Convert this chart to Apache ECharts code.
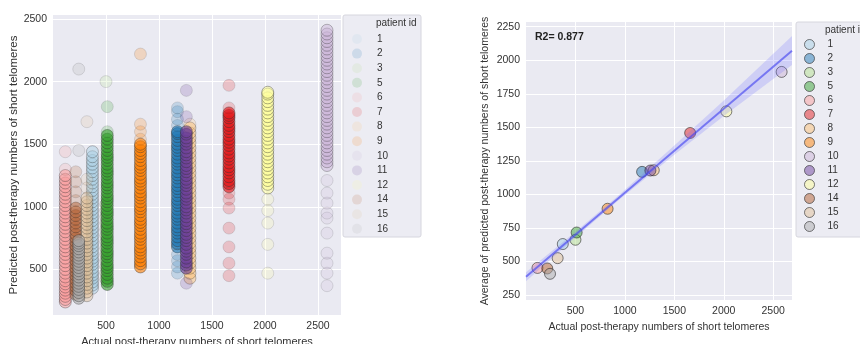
<!DOCTYPE html>
<html><head><meta charset="utf-8">
<script src="https://cdn.jsdelivr.net/npm/echarts@6/dist/echarts.min.js"></script>
<style>html,body{margin:0;padding:0;background:#fff}#c{width:860px;height:344px}</style>
</head><body><div id="c"></div>
<script>
// ---------------- DATA ----------------
const patientIds = ['1','2','3','5','6','7','8','9','10','11','12','14','15','16'];
const actualShort = [372,1174,500,512,116,1660,1292,825,2585,1258,2026,215,320,243];
const avgPredicted = [630,1168,662,716,452,1458,1180,893,1913,1178,1619,448,525,408];

// per-patient predicted values (left panel): main body of each strip
const predCore = [
  [350,375,400,430,455,480,510,540,565,590,620,650,680,710,740,770,800,830,860,890,920,950,980,1010,1040,1070,1100,1130,1160,1190,1220,1250,1280,1310,1340,1370,1400,1440],
  [680,705,730,760,790,815,840,870,900,925,950,980,1010,1035,1060,1090,1120,1145,1170,1200,1230,1255,1280,1310,1340,1365,1390,1420,1450,1475,1500,1530,1560,1585,1600],
  [420,470,520,570,620,670,720,770,820,870,920,970,1020],
  [380,405,430,460,490,515,540,570,600,625,650,680,710,735,760,790,820,845,870,900,930,955,980,1010,1040,1065,1090,1120,1150,1175,1200,1230,1260,1285,1310,1340,1370,1395,1420,1450,1480,1510,1540,1570],
  [240,260,285,310,335,360,385,410,440,470,500,530,560,590,620,650,680,710,740,770,800,830,860,890,920,950,980,1010,1040,1070,1100,1130,1160,1190,1220,1250],
  [1160,1185,1210,1240,1270,1295,1320,1350,1380,1405,1430,1460,1490,1515,1540,1570,1600,1625,1650,1680,1710,1730,1750],
  [430,470,510,550,590,630,670,710,750,790,830,870,910,950,990,1030,1070,1110,1150,1190,1230,1270,1310,1350,1390,1430,1470,1510,1550,1590,1630],
  [520,545,570,600,630,655,680,710,740,765,790,820,850,875,900,930,960,985,1010,1040,1070,1095,1120,1150,1180,1205,1230,1260,1290,1315,1340,1370,1400,1425,1450,1480,1500],
  [1330,1360,1390,1420,1450,1480,1510,1540,1570,1600,1630,1660,1690,1720,1750,1780,1810,1840,1870,1900,1930,1960,1990,2020,2050,2080,2110,2140,2170,2200,2230,2260,2290,2320,2350,2380,2410],
  [510,535,560,590,620,645,670,700,730,755,780,810,840,865,890,920,950,975,1000,1030,1060,1085,1110,1140,1170,1195,1220,1250,1280,1305,1330,1360,1390,1415,1440,1470,1500,1525,1550,1580,1600],
  [1150,1180,1210,1240,1270,1300,1330,1360,1390,1420,1450,1480,1510,1540,1570,1600,1630,1660,1690,1720,1750,1780,1810,1840,1870,1900,1915],
  [300,330,360,390,420,450,480,510,540,570,600,630,660,690,720,750,780,810,840,870,900,930,960,990],
  [290,320,350,380,410,440,470,500,530,560,590,620,650,680,710,740,770,800,830,860,890,920,950,980,1010,1040,1070],
  [270,290,315,340,365,390,415,440,465,490,515,540,565,590,615,640,665,690,710,730]
];
// per-patient predicted values (left panel): scattered outlying points
const predFaint = [
  [],
  [470,520,570,620,1650,1700,1760,1790],
  [2000],
  [1600,1800],
  [1300,1440],
  [450,550,680,830,990,1060,1110,1790,1970],
  [1660],
  [1540,1600,1660,2220],
  [370,470,550,630,790,910,950,1030,1110,1210],
  [390,1720,1930],
  [470,700,870,970,1060],
  [1050,1120,1200,1280],
  [1150,1220,1680],
  [1450,2100]
];

const xTicks = [500,1000,1500,2000,2500];
const yTicksLeft = [500,1000,1500,2000,2500];
const yTicksRight = [250,500,750,1000,1250,1500,1750,2000,2250];
const r2Label = 'R2= 0.877';
// fitted line and its confidence band
const fitX = [0, 2690];
const fitY = [386, 2070];
const bandX = [0, 500, 930, 1500, 2000, 2690];
const bandLo = [352, 678, 952, 1295, 1585, 1965];
const bandHi = [420, 722, 988, 1365, 1700, 2180];

// ---------------- STYLE ----------------
const colors = ['#a6cee3','#1f78b4','#b2df8a','#33a02c','#fb9a99','#e31a1c','#fdbf6f','#ff7f00','#cab2d6','#6a3d9a','#ffff99','#b15928','#dfbf94','#a9a9a9'];
const coreAlpha = [0.45,0.6,0.35,0.6,0.5,0.65,0.45,0.6,0.45,0.6,0.55,0.45,0.45,0.55];
const faintAlpha = 0.2;
const FONT = 'Liberation Sans, Arial, sans-serif';

function rgba(hex, a){
  const n = parseInt(hex.slice(1),16);
  return 'rgba(' + ((n>>16)&255) + ',' + ((n>>8)&255) + ',' + (n&255) + ',' + a + ')';
}

const chart = echarts.init(document.getElementById('c'), null, {renderer:'canvas'});

function axisCommon(ticks, fs, nfs){
  return {
    type:'value',
    axisLine:{show:false},
    axisTick:{show:false, customValues: ticks},
    axisLabel:{customValues: ticks, color:'#333', fontSize:fs, fontFamily:FONT, margin:6, formatter:v=>String(v)},
    splitLine:{show:true, lineStyle:{color:'#ffffff', width:1}},
    nameLocation:'middle',
    nameTextStyle:{color:'#333', fontSize:nfs, fontFamily:FONT}
  };
}

const series = [];
patientIds.forEach((pid, i) => {
  const data = [];
  predCore[i].forEach(v => data.push({value:[actualShort[i], v], itemStyle:{opacity:coreAlpha[i]}}));
  predFaint[i].forEach(v => data.push({value:[actualShort[i], v], itemStyle:{opacity:faintAlpha}}));
  series.push({
    name: pid, type:'scatter', xAxisIndex:0, yAxisIndex:0,
    symbolSize:12, data,
    itemStyle:{color:colors[i], borderColor:'#333', borderWidth:0.7},
    emphasis:{disabled:true}, z:2
  });
});
patientIds.forEach((pid, i) => {
  series.push({
    name: pid, type:'scatter', xAxisIndex:1, yAxisIndex:1,
    symbolSize:11, data:[[actualShort[i], avgPredicted[i]]],
    itemStyle:{color:rgba(colors[i],0.6), borderColor:'rgba(30,30,30,0.7)', borderWidth:1},
    emphasis:{disabled:true}, z:2
  });
});
series.push({
  type:'custom', xAxisIndex:1, yAxisIndex:1, clip:true, z:3, silent:true,
  data:[0],
  renderItem:(params, api) => {
    const pts = [];
    for (let k=0;k<bandX.length;k++) pts.push(api.coord([bandX[k], bandHi[k]]));
    for (let k=bandX.length-1;k>=0;k--) pts.push(api.coord([bandX[k], bandLo[k]]));
    return {type:'polygon', shape:{points:pts}, style:{fill:'rgba(110,110,255,0.22)'}};
  }
});
series.push({
  type:'line', xAxisIndex:1, yAxisIndex:1, z:4, silent:true,
  data: fitX.map((x,k)=>[x, fitY[k]]),
  showSymbol:false, lineStyle:{color:'rgba(70,70,240,0.65)', width:2}
});

function legendData(alphaFill, withBorder){
  return patientIds.map((pid,i)=>({
    name: pid,
    itemStyle: withBorder ? {color:rgba(colors[i],alphaFill), borderColor:'rgba(40,40,40,0.75)', borderWidth:1}
                          : {color:rgba(colors[i],alphaFill), borderWidth:0}
  }));
}

const option = {
  animation:false,
  backgroundColor:'#ffffff',
  grid:[
    {left:53, top:15, width:288, height:300, show:true, backgroundColor:'#eaeaf2', borderWidth:0, outerBoundsMode:'none', containLabel:false},
    {left:526, top:22, width:266, height:278, show:true, backgroundColor:'#eaeaf2', borderWidth:0, outerBoundsMode:'none', containLabel:false}
  ],
  xAxis:[
    Object.assign(axisCommon(xTicks,10.5,11), {gridIndex:0, min:0, max:2717, name:'Actual post-therapy numbers of short telomeres', nameGap:19}),
    Object.assign(axisCommon(xTicks,10.5,10.5), {gridIndex:1, min:0, max:2690, name:'Actual post-therapy numbers of short telomeres', nameGap:21})
  ],
  yAxis:[
    Object.assign(axisCommon(yTicksLeft,10.5,11.5), {gridIndex:0, min:136, max:2532, name:'Predicted post-therapy numbers of short telomeres', nameGap:33}),
    Object.assign(axisCommon(yTicksRight,10.5,10.5), {gridIndex:1, min:213, max:2285, name:'Average of predicted post-therapy numbers of short telomeres', nameGap:35})
  ],
  legend:[
    {orient:'vertical', left:347, top:29, itemWidth:10, itemHeight:10, itemGap:4.6, icon:'circle',
     textStyle:{color:'#333', fontSize:10, fontFamily:FONT, padding:[0,0,0,10]},
     data:legendData(0.18,false), selectedMode:false, z:5},
    {orient:'vertical', left:799, top:34, itemWidth:10, itemHeight:10, itemGap:3.0, icon:'circle',
     textStyle:{color:'#333', fontSize:10, fontFamily:FONT, padding:[0,0,0,8]},
     data:legendData(0.6,true), selectedMode:false, z:5}
  ],
  graphic:[
    {type:'rect', shape:{x:343, y:15, width:78, height:222, r:2}, style:{fill:'#ececf3', stroke:'#d6d6de', lineWidth:1}, z:1},
    {type:'text', x:376, y:23, style:{text:'patient id', fill:'#333', font:'10px '+FONT, verticalAlign:'middle'}, z:2},
    {type:'rect', shape:{x:796, y:22, width:80, height:215, r:2}, style:{fill:'#ececf3', stroke:'#d6d6de', lineWidth:1}, z:1},
    {type:'text', x:825, y:30, style:{text:'patient id', fill:'#333', font:'10px '+FONT, verticalAlign:'middle'}, z:2},
    {type:'text', x:535, y:37, style:{text:r2Label, fill:'#222', font:'bold 10.5px '+FONT, verticalAlign:'middle'}, z:6}
  ],
  series
};
chart.setOption(option);
</script>
</body></html>
